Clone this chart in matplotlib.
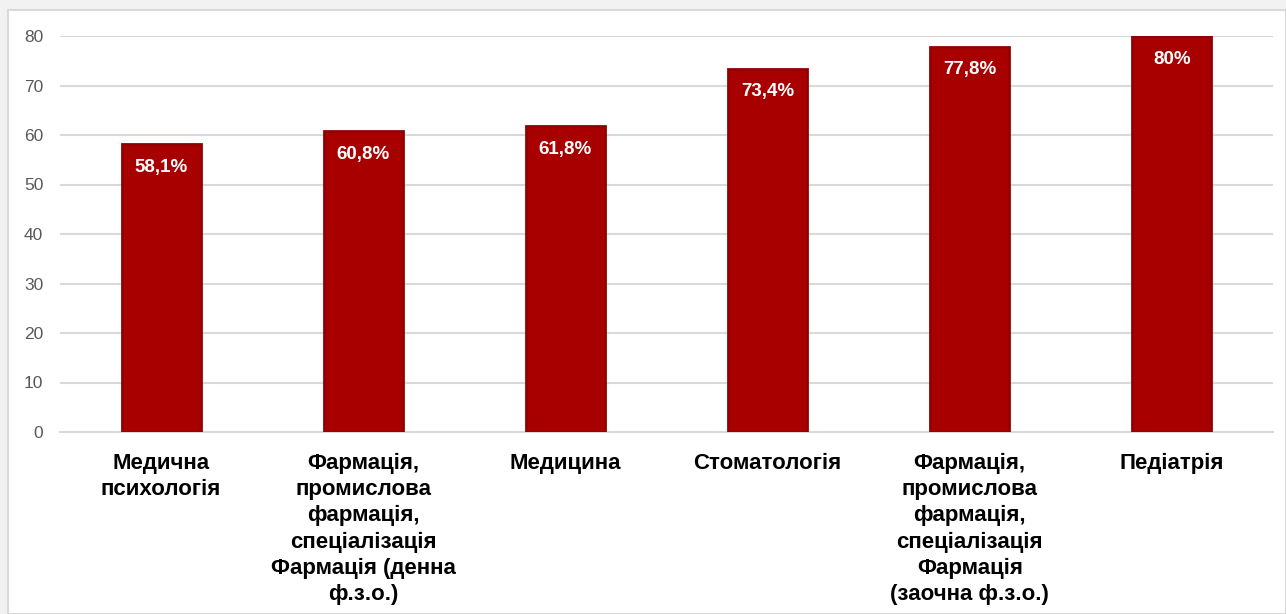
import numpy as np
import matplotlib.pyplot as plt
from matplotlib.patches import Rectangle

plt.rcParams['font.family'] = ['Liberation Sans', 'DejaVu Sans']

categories = [
    'Медична\nпсихологія',
    'Фармація,\nпромислова\nфармація,\nспеціалізація\nФармація (денна\nф.з.о.)',
    'Медицина',
    'Стоматологія',
    'Фармація,\nпромислова\nфармація,\nспеціалізація\nФармація\n(заочна ф.з.о.)',
    'Педіатрія',
]
values = [58.1, 60.8, 61.8, 73.4, 77.8, 80]
value_labels = ['58,1%', '60,8%', '61,8%', '73,4%', '77,8%', '80%']

W, H = 1286, 614
fig = plt.figure(figsize=(W / 100, H / 100), dpi=100, facecolor='#f2f2f2')
# white chart panel with thin border, kept behind the axes
fig.patches.append(Rectangle((8 / W, 0), 1 - 8 / W, 1 - 10 / H, transform=fig.transFigure,
                             facecolor='white', edgecolor='#d9d9d9', lw=1.5, zorder=-5))

ax = fig.add_axes([60 / W, (H - 432) / H, (1273 - 60) / W, (432 - 36) / H])
ax.set_facecolor('none')

x = np.arange(len(categories))
bars = ax.bar(x, values, width=0.39, color='#a80000', edgecolor='#930000', linewidth=2, zorder=3)

for b, lab in zip(bars, value_labels):
    ax.annotate(lab, (b.get_x() + b.get_width() / 2, b.get_height()), xytext=(0, -10.5),
                textcoords='offset points', ha='center', va='top',
                color='white', fontsize=13.5, fontweight='bold', zorder=4)

ax.set_xlim(-0.5, len(categories) - 0.5)
ax.set_ylim(0, 80)
ax.set_yticks(range(0, 81, 10))
ax.yaxis.grid(True, color='#d9d9d9', lw=1.5, zorder=0)
ax.tick_params(axis='y', length=0, pad=12, labelsize=12.5, labelcolor='#595959')
ax.tick_params(axis='x', length=0, pad=15)
ax.set_xticks(x)
ax.set_xticklabels(categories, fontsize=16, fontweight='bold', color='black', linespacing=1.32, va='top')
for s in ['top', 'right', 'left']:
    ax.spines[s].set_visible(False)
ax.spines['bottom'].set_color('#d9d9d9')
ax.spines['bottom'].set_linewidth(1.5)

plt.savefig('out.png', dpi=100, facecolor=fig.get_facecolor())
